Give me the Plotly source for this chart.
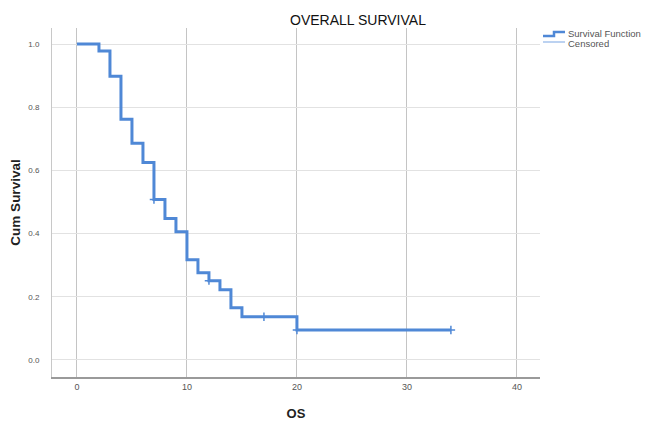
import plotly.graph_objects as go

# Kaplan-Meier step data
times = [0, 2, 3, 4, 5, 6, 7, 8, 9, 10, 11, 12, 13, 14, 15, 20, 34]
survival = [1.0, 0.978, 0.898, 0.762, 0.686, 0.625, 0.508, 0.448, 0.406,
            0.317, 0.276, 0.251, 0.222, 0.165, 0.137, 0.095, 0.095]
censor_times = [7, 12, 17, 20, 34]
censor_surv = [0.508, 0.251, 0.137, 0.095, 0.095]

x_ticks = [0, 10, 20, 30, 40]
y_ticks = [0.0, 0.2, 0.4, 0.6, 0.8, 1.0]
y_ticktext = ["0.0", "0.2", "0.4", "0.6", "0.8", "1.0"]
legend_labels = ["Survival Function", "Censored"]

blue = "#4f88d6"
light_blue = "#8fb4e8"

L, R, T, B = 52, 540, 28, 377
PW, PH = R - L, B - T


def px(x):
    return (x - L) / PW


def py(y):
    return (B - y) / PH


fig = go.Figure()
fig.add_trace(go.Scatter(
    x=times, y=survival, mode="lines", line_shape="hv",
    line=dict(color=blue, width=3), name=legend_labels[0], showlegend=False,
    hoverinfo="skip"))
fig.add_trace(go.Scatter(
    x=censor_times, y=censor_surv, mode="markers",
    marker=dict(symbol="cross-thin", size=6, line=dict(color=blue, width=1.5)),
    name=legend_labels[1], showlegend=False, hoverinfo="skip"))

# manual compact legend (SPSS style)
shapes = [
    dict(type="path", xref="paper", yref="paper",
         path="M {} {} L {} {} L {} {} L {} {}".format(
             px(543), py(36), px(554), py(36), px(554), py(32), px(565), py(32)),
         line=dict(color=blue, width=2.5)),
    dict(type="line", xref="paper", yref="paper",
         x0=px(543), x1=px(565), y0=py(42), y1=py(42),
         line=dict(color=light_blue, width=1.2)),
]
annotations = [
    dict(text="OVERALL SURVIVAL", x=px(358), y=py(20), xref="paper", yref="paper",
         showarrow=False, xanchor="center", yanchor="middle",
         font=dict(size=14, color="#111")),
    dict(text=legend_labels[0], x=px(566), y=py(34), xref="paper", yref="paper",
         showarrow=False, xanchor="left", yanchor="middle",
         font=dict(size=9.5, color="#555")),
    dict(text=legend_labels[1], x=px(566), y=py(43), xref="paper", yref="paper",
         showarrow=False, xanchor="left", yanchor="middle",
         font=dict(size=9.5, color="#555")),
]

fig.update_layout(
    width=646, height=421,
    margin=dict(l=L, r=646 - R, t=T, b=421 - B, autoexpand=False),
    paper_bgcolor="white", plot_bgcolor="white",
    font=dict(family="Liberation Sans, Arial, sans-serif", color="#222"),
    showlegend=False,
    hovermode=False,
    shapes=shapes,
    annotations=annotations,
)

fig.update_xaxes(
    range=[-2.27, 42.1], tickvals=x_ticks, ticks="", automargin=False,
    showgrid=True, gridcolor="#c4c4c4", gridwidth=1,
    showline=True, linecolor="#9a9a9a", linewidth=2,
    zeroline=False, tickfont=dict(size=9, color="#555"),
    title=dict(text="<b>OS</b>", font=dict(size=13, color="#222"), standoff=18))
fig.update_yaxes(
    range=[-0.054, 1.051], tickvals=y_ticks, ticktext=y_ticktext, ticks="",
    automargin=False,
    showgrid=True, gridcolor="#e2e2e2", gridwidth=1,
    showline=True, linecolor="#c8c8c8", linewidth=1,
    zeroline=False, tickfont=dict(size=8, color="#555"), ticklabelstandoff=10,
    title=dict(text="<b>Cum Survival</b>", font=dict(size=13.5, color="#222"), standoff=4))

fig.write_html("out.html",
               config={"displayModeBar": False},
               post_script="document.body.style.margin='0';document.body.style.overflow='hidden';")
